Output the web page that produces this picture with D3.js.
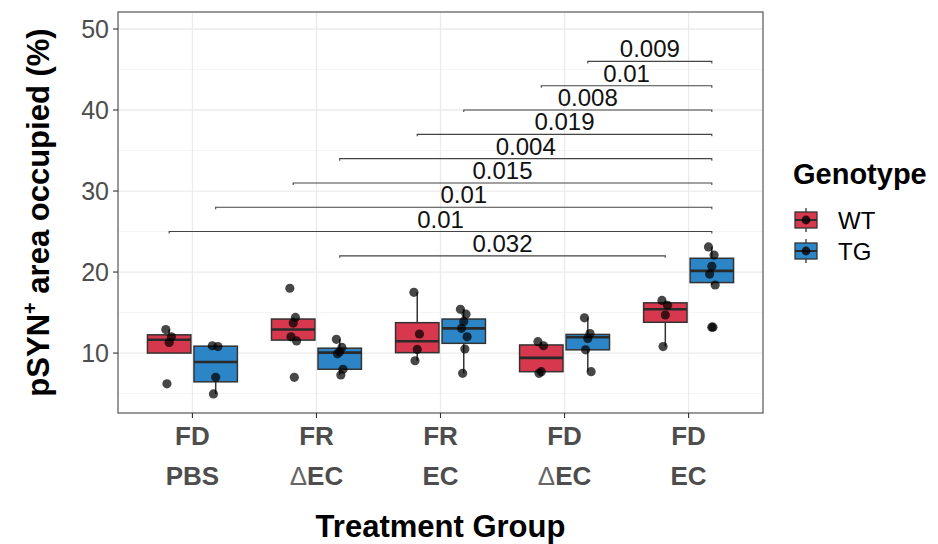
<!DOCTYPE html>
<html>
<head>
<meta charset="utf-8">
<script src="https://cdn.jsdelivr.net/npm/d3@7"></script>
<style>
  body { margin: 0; background: #fff; }
  text { font-family: Arial, "Liberation Sans", sans-serif; }
</style>
</head>
<body>
<div id="chart"></div>
<script>
// treatment groups (two-line tick labels)
const groupTop = ["FD", "FR", "FR", "FD", "FD"];
const groupBottom = ["PBS", "\u0394EC", "EC", "\u0394EC", "EC"];
const genotypes = ["WT", "TG"];
const genoColors = ["#D7384D", "#2C85C6"];

// box stats per group: [lower whisker, q1, median, q3, upper whisker]
const wtBoxes = [
  [10.0, 10.0, 11.65, 12.25, 12.9],
  [11.5, 11.6, 12.9, 14.2, 14.4],
  [9.05, 10.05, 11.45, 13.75, 17.5],
  [7.5, 7.7, 9.4, 11.0, 11.4],
  [10.8, 13.8, 15.4, 16.2, 16.5]
];
const tgBoxes = [
  [4.95, 6.45, 8.9, 10.85, 10.9],
  [7.3, 8.0, 10.05, 10.6, 11.7],
  [7.5, 11.2, 13.05, 14.2, 15.4],
  [7.7, 10.4, 11.95, 12.3, 14.35],
  [18.4, 18.7, 20.15, 21.7, 23.1]
];

// individual animals
const wtPoints = [
  [12.9, 12.0, 11.3, 6.2],
  [18.0, 14.4, 13.7, 12.0, 11.5, 7.0],
  [17.5, 12.35, 10.45, 9.05],
  [11.4, 10.9, 7.7, 7.5],
  [16.5, 15.9, 14.7, 10.8]
];
const tgPoints = [
  [10.9, 10.8, 7.0, 4.95],
  [11.7, 10.7, 10.15, 9.9, 8.0, 7.3],
  [15.4, 14.8, 13.9, 13.05, 12.0, 10.5, 7.5],
  [14.35, 12.4, 11.8, 10.4, 7.7],
  [23.1, 22.1, 20.7, 19.75, 18.4, 13.2]
];
// boxplot outliers (drawn on top of jittered points)
const tgOutliers = [[], [], [], [], [13.2]];

// pairwise comparisons: [group, genotype] -> [group, genotype]
const compFrom = [[3, 1], [3, 0], [2, 1], [2, 0], [1, 1], [1, 0], [0, 1], [0, 0], [1, 1]];
const compTo = [[4, 1], [4, 1], [4, 1], [4, 1], [4, 1], [4, 1], [4, 1], [4, 1], [4, 0]];
const compY = [46, 43, 40, 37, 34, 31, 28, 25, 22];
const compP = ["0.009", "0.01", "0.008", "0.019", "0.004", "0.015", "0.01", "0.01", "0.032"];

const yTicks = [10, 20, 30, 40, 50];
const yMinor = [5, 15, 25, 35, 45];

const width = 938, height = 544;
const panel = { left: 118, right: 763, top: 12, bottom: 413 };

const svg = d3.select("#chart")
  .append("svg")
  .attr("width", width)
  .attr("height", height);

const x = d3.scaleLinear().domain([0.4, 5.6]).range([panel.left, panel.right]);
const y = d3.scaleLinear().domain([2.6, 52.1]).range([panel.bottom, panel.top]);

const dodge = 0.1875, boxW = 0.35;
const xPos = (g, k) => x(g + 1 + (k === 0 ? -dodge : dodge));

// grid
const grid = svg.append("g");
grid.selectAll("line.minor")
  .data(yMinor)
  .join("line")
  .attr("x1", panel.left).attr("x2", panel.right)
  .attr("y1", (d) => y(d)).attr("y2", (d) => y(d))
  .attr("stroke", "#F2F2F2").attr("stroke-width", 0.8);
grid.selectAll("line.major")
  .data(yTicks)
  .join("line")
  .attr("x1", panel.left).attr("x2", panel.right)
  .attr("y1", (d) => y(d)).attr("y2", (d) => y(d))
  .attr("stroke", "#EBEBEB").attr("stroke-width", 1.3);
grid.selectAll("line.vert")
  .data(groupTop)
  .join("line")
  .attr("x1", (d, i) => x(i + 1)).attr("x2", (d, i) => x(i + 1))
  .attr("y1", panel.top).attr("y2", panel.bottom)
  .attr("stroke", "#EBEBEB").attr("stroke-width", 1.3);

// boxes
const boxData = [];
[wtBoxes, tgBoxes].forEach((boxes, k) => {
  boxes.forEach((b, g) => boxData.push({ g, k, b }));
});

const boxes = svg.append("g")
  .selectAll("g")
  .data(boxData)
  .join("g");

const half = (x(1 + boxW) - x(1)) / 2;

boxes.append("line")
  .attr("x1", (d) => xPos(d.g, d.k)).attr("x2", (d) => xPos(d.g, d.k))
  .attr("y1", (d) => y(d.b[0])).attr("y2", (d) => y(d.b[4]))
  .attr("stroke", "#333").attr("stroke-width", 1.5);
boxes.append("rect")
  .attr("x", (d) => xPos(d.g, d.k) - half)
  .attr("width", half * 2)
  .attr("y", (d) => y(d.b[3]))
  .attr("height", (d) => y(d.b[1]) - y(d.b[3]))
  .attr("fill", (d) => genoColors[d.k])
  .attr("stroke", "#333").attr("stroke-width", 1.5);
boxes.append("line")
  .attr("x1", (d) => xPos(d.g, d.k) - half).attr("x2", (d) => xPos(d.g, d.k) + half)
  .attr("y1", (d) => y(d.b[2])).attr("y2", (d) => y(d.b[2]))
  .attr("stroke", "#2a2a2a").attr("stroke-width", 2.6);

// jittered points
const jitter = (i) => (((i * 5) % 7) - 3) * 0.009;
const pointData = [];
[wtPoints, tgPoints].forEach((pts, k) => {
  pts.forEach((arr, g) => arr.forEach((v, i) => pointData.push({ g, k, v, i })));
});
svg.append("g")
  .selectAll("circle")
  .data(pointData)
  .join("circle")
  .attr("cx", (d) => x(d.g + 1 + (d.k === 0 ? -dodge : dodge) + jitter(d.i)))
  .attr("cy", (d) => y(d.v))
  .attr("r", 4.6)
  .attr("fill", "#000")
  .attr("fill-opacity", 0.72);

const outData = [];
tgOutliers.forEach((arr, g) => arr.forEach((v) => outData.push({ g, k: 1, v })));
svg.append("g")
  .selectAll("circle")
  .data(outData)
  .join("circle")
  .attr("cx", (d) => xPos(d.g, d.k))
  .attr("cy", (d) => y(d.v))
  .attr("r", 4.6)
  .attr("fill", "#000")
  .attr("fill-opacity", 0.72);

// comparison brackets
const brackets = svg.append("g")
  .selectAll("g")
  .data(compY.map((v, i) => ({ v, i })))
  .join("g");
const tip = 2;
brackets.append("path")
  .attr("d", (d) => {
    const x1 = xPos(compFrom[d.i][0], compFrom[d.i][1]);
    const x2 = xPos(compTo[d.i][0], compTo[d.i][1]);
    const yy = y(d.v);
    return `M${x1},${yy + tip}V${yy}H${x2}V${yy + tip}`;
  })
  .attr("fill", "none")
  .attr("stroke", "#444")
  .attr("stroke-width", 1.1);
brackets.append("text")
  .attr("x", (d) => (xPos(compFrom[d.i][0], compFrom[d.i][1]) + xPos(compTo[d.i][0], compTo[d.i][1])) / 2)
  .attr("y", (d) => y(d.v) - 4)
  .attr("text-anchor", "middle")
  .attr("font-size", 24)
  .attr("fill", "#111")
  .text((d) => compP[d.i]);

// panel border
svg.append("rect")
  .attr("x", panel.left).attr("y", panel.top)
  .attr("width", panel.right - panel.left)
  .attr("height", panel.bottom - panel.top)
  .attr("fill", "none")
  .attr("stroke", "#555")
  .attr("stroke-width", 1.2);

// y axis
const yAxis = svg.append("g");
yAxis.selectAll("line")
  .data(yTicks)
  .join("line")
  .attr("x1", panel.left - 5).attr("x2", panel.left)
  .attr("y1", (d) => y(d)).attr("y2", (d) => y(d))
  .attr("stroke", "#333").attr("stroke-width", 1.1);
yAxis.selectAll("text")
  .data(yTicks)
  .join("text")
  .attr("x", panel.left - 9)
  .attr("y", (d) => y(d))
  .attr("dy", "0.36em")
  .attr("text-anchor", "end")
  .attr("font-size", 25)
  .attr("fill", "#4D4D4D")
  .text((d) => d);

// x axis
const xAxis = svg.append("g");
xAxis.selectAll("line")
  .data(groupTop)
  .join("line")
  .attr("x1", (d, i) => x(i + 1)).attr("x2", (d, i) => x(i + 1))
  .attr("y1", panel.bottom).attr("y2", panel.bottom + 5)
  .attr("stroke", "#333").attr("stroke-width", 1.1);
const xLabels = xAxis.selectAll("text")
  .data(groupTop)
  .join("text")
  .attr("text-anchor", "middle")
  .attr("font-size", 26)
  .attr("font-weight", "bold")
  .attr("fill", "#4D4D4D");
xLabels.append("tspan")
  .attr("x", (d, i) => x(i + 1)).attr("y", 445)
  .text((d) => d);
const bottomLine = xLabels.append("tspan")
  .attr("x", (d, i) => x(i + 1)).attr("y", 485);
bottomLine.each(function (d, i) {
  const label = groupBottom[i];
  const sel = d3.select(this);
  if (label.startsWith("\u0394")) {
    sel.append("tspan").attr("font-weight", "normal").attr("fill", "#666").text("\u0394");
    sel.append("tspan").text(label.slice(1));
  } else {
    sel.text(label);
  }
});

// axis titles
svg.append("text")
  .attr("x", (panel.left + panel.right) / 2)
  .attr("y", 537)
  .attr("text-anchor", "middle")
  .attr("font-size", 31)
  .attr("font-weight", "bold")
  .attr("fill", "#000")
  .text("Treatment Group");

const yTitle = svg.append("text")
  .attr("transform", `translate(49,${(panel.top + panel.bottom) / 2}) rotate(-90)`)
  .attr("text-anchor", "middle")
  .attr("font-size", 31)
  .attr("font-weight", "bold")
  .attr("fill", "#000");
yTitle.append("tspan").text("pSYN");
yTitle.append("tspan").attr("dy", -12).attr("font-size", 20).text("+");
yTitle.append("tspan").attr("dy", 12).text(" area occupied (%)");

// legend
const legend = svg.append("g").attr("transform", "translate(793,0)");
legend.append("text")
  .attr("x", 0).attr("y", 184)
  .attr("font-size", 29)
  .attr("font-weight", "bold")
  .attr("fill", "#000")
  .text("Genotype");
const keys = legend.selectAll("g.key")
  .data(genotypes)
  .join("g")
  .attr("transform", (d, i) => `translate(0,${220 + i * 31})`);
keys.append("line")
  .attr("x1", 13).attr("x2", 13).attr("y1", -12).attr("y2", 12)
  .attr("stroke", "#333").attr("stroke-width", 1.3);
keys.append("rect")
  .attr("x", 2).attr("y", -8).attr("width", 22).attr("height", 16)
  .attr("fill", (d, i) => genoColors[i])
  .attr("stroke", "#333").attr("stroke-width", 1.3);
keys.append("line")
  .attr("x1", 2).attr("x2", 24).attr("y1", 0).attr("y2", 0)
  .attr("stroke", "#2a2a2a").attr("stroke-width", 2);
keys.append("circle")
  .attr("cx", 13).attr("cy", 0).attr("r", 4.4)
  .attr("fill", "#000").attr("fill-opacity", 0.8);
keys.append("text")
  .attr("x", 45).attr("y", 0)
  .attr("dy", "0.36em")
  .attr("font-size", 24)
  .attr("fill", "#000")
  .text((d) => d);
</script>
</body>
</html>
